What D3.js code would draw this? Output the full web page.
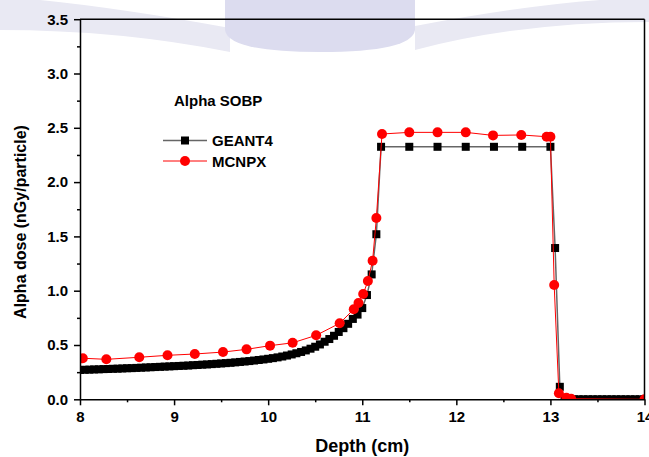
<!DOCTYPE html>
<html><head><meta charset="utf-8">
<script src="https://cdn.jsdelivr.net/npm/d3@7"></script>
<style>
body{margin:0;background:#fff;}
svg text{font-family:Arial,"Liberation Sans",sans-serif;font-weight:bold;fill:#000;}
</style>
</head><body>
<svg id="c" width="649" height="457"></svg>
<script>
// ---- data ----
const geantDepth = [8.00,8.05,8.10,8.15,8.20,8.25,8.30,8.35,8.40,8.45,8.50,8.55,8.60,8.65,8.70,8.75,8.80,8.85,8.90,8.95,
  9.00,9.05,9.10,9.15,9.20,9.25,9.30,9.35,9.40,9.45,9.50,9.55,9.60,9.65,9.70,9.75,9.80,9.85,9.90,9.95,
  10.00,10.05,10.10,10.15,10.20,10.25,10.30,10.35,10.40,10.45,10.50,10.55,10.60,10.65,10.70,10.75,10.80,10.85,10.90,10.95,
  11.00,11.05,11.10,11.15,11.2,11.5,11.8,12.1,12.4,12.7,13.0,13.05,13.10,
  13.15,13.20,13.25,13.30,13.35,13.40,13.45,13.50,13.55,13.60,13.65,13.70,13.75,13.80,13.85,13.90,13.95,14.00];
const geantDose = [0.270,0.272,0.273,0.275,0.276,0.278,0.279,0.281,0.282,0.284,0.286,0.287,0.289,0.291,0.293,0.295,0.297,0.299,0.301,0.303,
  0.305,0.307,0.309,0.311,0.314,0.316,0.319,0.321,0.324,0.327,0.330,0.333,0.336,0.340,0.344,0.348,0.352,0.357,0.362,0.367,
  0.373,0.379,0.386,0.394,0.403,0.413,0.424,0.436,0.450,0.466,0.484,0.505,0.530,0.555,0.585,0.620,0.655,0.695,0.740,0.780,
  0.840,0.960,1.150,1.520,2.325,2.325,2.325,2.325,2.325,2.325,2.325,1.393,0.115,
  0,0,0,0,0,0,0,0,0,0,0,0,0,0,0,0,0,0];
const mcnpxDepth = [8.03,8.28,8.63,8.93,9.22,9.52,9.77,10.02,10.26,10.51,10.76,10.91,10.96,11.01,11.06,11.11,11.15,
  11.21,11.50,11.80,12.10,12.39,12.69,12.96,13.00,13.04,13.09,13.17,13.22,14.00];
const mcnpxDose = [0.378,0.368,0.387,0.405,0.417,0.435,0.460,0.494,0.520,0.589,0.700,0.829,0.887,0.970,1.089,1.276,1.670,
  2.443,2.458,2.458,2.458,2.430,2.434,2.418,2.418,1.052,0.055,0.015,0.005,0.000];
const seriesNames = ["GEANT4","MCNPX"];
const xTicks = [8,9,10,11,12,13,14];
const xMinor = [8.5,9.5,10.5,11.5,12.5,13.5];
const yTicks = [0,0.5,1.0,1.5,2.0,2.5,3.0,3.5];
const yMinor = [0.25,0.75,1.25,1.75,2.25,2.75,3.25];
const chartTitle = "Alpha SOBP";
const xTitle = "Depth (cm)";
const yTitle = "Alpha dose (nGy/particle)";

// ---- layout ----
const L = 80, R = 644.5, T = 19.2, B = 399.3;
const svg = d3.select("#c");
const x = d3.scaleLinear().domain([8,14]).range([L,R]);
const y = d3.scaleLinear().domain([0,3.5]).range([B,T]);

// faint background watermark
const wm = svg.append("g");
wm.append("path").attr("d","M0,0 L0,30 Q120,30 230,52 L230,28 Q120,8 40,0 Z").attr("fill","#e9e9f3");
wm.append("path").attr("d","M649,0 L649,22 Q520,22 415,50 L415,26 Q520,6 600,0 Z").attr("fill","#e9e9f3");
wm.append("path").attr("d","M225,0 L415,0 L415,30 Q412,52 320,52 Q228,52 225,30 Z").attr("fill","#dcdcef");

svg.append("defs").append("clipPath").attr("id","clip")
  .append("rect").attr("x",L).attr("y",T).attr("width",R-L).attr("height",B-T);

const plot = svg.append("g").attr("clip-path","url(#clip)");
const gData = geantDepth.map((d,i)=>({x:d,y:geantDose[i]}));
const mData = mcnpxDepth.map((d,i)=>({x:d,y:mcnpxDose[i]}));
const line = d3.line().x(d=>x(d.x)).y(d=>y(d.y));

plot.append("path").datum(gData).attr("d",line).attr("fill","none").attr("stroke","#666").attr("stroke-width",1.5);
plot.selectAll("rect.g").data(gData).enter().append("rect").attr("class","g")
  .attr("x",d=>x(d.x)-4).attr("y",d=>y(d.y)-4).attr("width",8).attr("height",8).attr("fill","#000");
plot.append("path").datum(mData).attr("d",line).attr("fill","none").attr("stroke","#ff0000").attr("stroke-width",1);
plot.selectAll("circle.m").data(mData).enter().append("circle").attr("class","m")
  .attr("cx",d=>x(d.x)).attr("cy",d=>y(d.y)).attr("r",5).attr("fill","#ff0000");

// axes
const xAxis = svg.append("g").attr("transform",`translate(0,${B})`)
  .call(d3.axisBottom(x).tickValues(xTicks).tickFormat(d3.format("d")).tickSizeInner(6).tickSizeOuter(0).tickPadding(6));
svg.append("g").attr("transform",`translate(0,${B})`)
  .call(d3.axisBottom(x).tickValues(xMinor).tickFormat("").tickSizeInner(3).tickSizeOuter(0))
  .select(".domain").remove();
const yAxis = svg.append("g").attr("transform",`translate(${L},0)`)
  .call(d3.axisLeft(y).tickValues(yTicks).tickFormat(d3.format(".1f")).tickSizeInner(6).tickSizeOuter(0).tickPadding(6));
svg.append("g").attr("transform",`translate(${L},0)`)
  .call(d3.axisLeft(y).tickValues(yMinor).tickFormat("").tickSizeInner(3).tickSizeOuter(0))
  .select(".domain").remove();
svg.selectAll(".tick line").attr("stroke","#000").attr("stroke-width",1.5);
svg.selectAll(".domain").attr("stroke","#000").attr("stroke-width",1.5);
xAxis.selectAll("text").style("font-size","15px").style("font-family","Arial, 'Liberation Sans', sans-serif").style("font-weight","bold");
yAxis.selectAll("text").style("font-size","15px").style("font-family","Arial, 'Liberation Sans', sans-serif").style("font-weight","bold");

// frame top/right
svg.append("line").attr("x1",L).attr("x2",R).attr("y1",T).attr("y2",T).attr("stroke","#000").attr("stroke-width",1.5);
svg.append("line").attr("x1",R).attr("x2",R).attr("y1",T).attr("y2",B).attr("stroke","#000").attr("stroke-width",1.5);

// titles
svg.append("text").attr("x",(L+R)/2).attr("y",452).attr("text-anchor","middle").style("font-size","18px").text(xTitle);
svg.append("text").attr("transform","translate(26,222) rotate(-90)").attr("text-anchor","middle").style("font-size","16px").text(yTitle);

// legend
svg.append("text").attr("x",174).attr("y",106).style("font-size","15px").text(chartTitle);
const lg = svg.append("g");
lg.append("line").attr("x1",163).attr("x2",207).attr("y1",140.5).attr("y2",140.5).attr("stroke","#666").attr("stroke-width",1.5);
lg.append("rect").attr("x",181).attr("y",136.5).attr("width",8).attr("height",8).attr("fill","#000");
lg.append("text").attr("x",212).attr("y",146).style("font-size","15px").text(seriesNames[0]);
lg.append("line").attr("x1",163).attr("x2",207).attr("y1",161).attr("y2",161).attr("stroke","#ff0000").attr("stroke-width",1);
lg.append("circle").attr("cx",185).attr("cy",161).attr("r",5).attr("fill","#ff0000");
lg.append("text").attr("x",212).attr("y",166.5).style("font-size","15px").text(seriesNames[1]);
</script>
</body></html>
